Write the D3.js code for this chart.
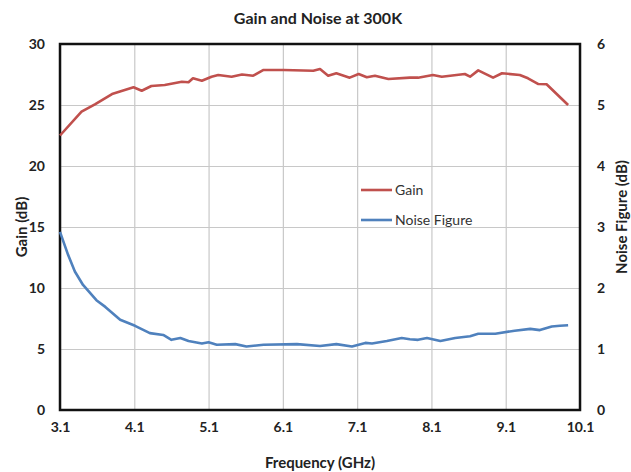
<!DOCTYPE html>
<html>
<head>
<meta charset="utf-8">
<script src="https://cdn.jsdelivr.net/npm/d3@7"></script>
<style>
  body { margin: 0; background: #fff; }
  text { font-family: Lato, "Open Sans", sans-serif; }
</style>
</head>
<body>
<script>
// frequency (GHz) and gain (dB)
const gainFreq = [3.10, 3.39, 3.57, 3.80, 4.09, 4.20, 4.33, 4.51, 4.74, 4.83, 4.89, 5.01, 5.14, 5.23, 5.41, 5.55, 5.70, 5.84, 6.11, 6.51, 6.60, 6.71, 6.82, 7.00, 7.12, 7.23, 7.34, 7.52, 7.81, 7.92, 8.12, 8.24, 8.55, 8.62, 8.73, 8.93, 9.05, 9.29, 9.40, 9.54, 9.65, 9.94]
const gainVals = [22.5, 24.45, 25.06, 25.9, 26.45, 26.17, 26.56, 26.64, 26.9, 26.86, 27.19, 26.99, 27.32, 27.46, 27.32, 27.5, 27.4, 27.87, 27.87, 27.81, 27.95, 27.4, 27.6, 27.24, 27.54, 27.27, 27.4, 27.13, 27.24, 27.24, 27.46, 27.32, 27.54, 27.32, 27.84, 27.24, 27.6, 27.46, 27.19, 26.72, 26.7, 25.0]

// frequency (GHz) and noise figure (dB)
const nfFreq = [3.10, 3.21, 3.30, 3.41, 3.59, 3.71, 3.91, 4.11, 4.31, 4.49, 4.60, 4.72, 4.83, 5.01, 5.10, 5.21, 5.46, 5.61, 5.84, 6.29, 6.60, 6.82, 7.03, 7.21, 7.30, 7.50, 7.70, 7.81, 7.92, 8.04, 8.22, 8.42, 8.62, 8.73, 8.96, 9.22, 9.43, 9.56, 9.72, 9.83, 9.94]
const nfVals = [2.92, 2.54, 2.27, 2.05, 1.80, 1.69, 1.48, 1.38, 1.26, 1.23, 1.15, 1.18, 1.13, 1.09, 1.11, 1.07, 1.08, 1.04, 1.07, 1.08, 1.05, 1.08, 1.04, 1.10, 1.09, 1.13, 1.18, 1.16, 1.15, 1.18, 1.13, 1.18, 1.21, 1.25, 1.25, 1.30, 1.33, 1.31, 1.37, 1.38, 1.39]

const xTicks = [3.1, 4.1, 5.1, 6.1, 7.1, 8.1, 9.1, 10.1]
const gainTicks = [0, 5, 10, 15, 20, 25, 30]
const nfTicks = [0, 1, 2, 3, 4, 5, 6]

const svgWidth = 631
const svgHeight = 472
const plotLeft = 60, plotRight = 580, plotTop = 44, plotBottom = 410

const red = "#c0504d"
const blue = "#4f81bd"

let svg = d3.select("body")
    .append("svg")
    .attr("width", svgWidth)
    .attr("height", svgHeight)

let xScale = d3.scaleLinear().domain([3.1, 10.1]).range([plotLeft, plotRight])
let yGain = d3.scaleLinear().domain([0, 30]).range([plotBottom, plotTop])
let yNf = d3.scaleLinear().domain([0, 6]).range([plotBottom, plotTop])

// grid
svg.append("g")
    .attr("transform", `translate(0, ${plotBottom})`)
    .call(d3.axisBottom(xScale).tickValues(xTicks).tickSize(-(plotBottom - plotTop)).tickFormat(""))
    .call(g => g.select(".domain").remove())
    .selectAll("line").attr("stroke", "#c8c8c8").attr("stroke-width", 1.2)

svg.append("g")
    .attr("transform", `translate(${plotLeft}, 0)`)
    .call(d3.axisLeft(yGain).tickValues(gainTicks).tickSize(-(plotRight - plotLeft)).tickFormat(""))
    .call(g => g.select(".domain").remove())
    .selectAll("line").attr("stroke", "#c8c8c8").attr("stroke-width", 1.2)

// tick labels
let xAxis = svg.append("g")
    .attr("transform", `translate(0, ${plotBottom + 9})`)
    .call(d3.axisBottom(xScale).tickValues(xTicks).tickSize(0).tickFormat(d3.format(".1f")))
xAxis.select(".domain").remove()
xAxis.selectAll("text").attr("font-size", 14).attr("font-weight", "bold").attr("fill", "#222")

let leftAxis = svg.append("g")
    .attr("transform", `translate(${plotLeft - 12}, 0)`)
    .call(d3.axisLeft(yGain).tickValues(gainTicks).tickSize(0))
leftAxis.select(".domain").remove()
leftAxis.selectAll("text").attr("font-size", 14).attr("font-weight", "bold").attr("fill", "#222")

let rightAxis = svg.append("g")
    .attr("transform", `translate(${plotRight + 14}, 0)`)
    .call(d3.axisRight(yNf).tickValues(nfTicks).tickSize(0).tickFormat(d3.format("d")))
rightAxis.select(".domain").remove()
rightAxis.selectAll("text").attr("font-size", 14).attr("font-weight", "bold").attr("fill", "#222")

// frame
svg.append("rect")
    .attr("x", plotLeft)
    .attr("y", plotTop)
    .attr("width", plotRight - plotLeft)
    .attr("height", plotBottom - plotTop)
    .attr("fill", "none")
    .attr("stroke", "#111")
    .attr("stroke-width", 2.5)

// lines
let gainLine = d3.line()
    .x((d, i) => xScale(gainFreq[i]))
    .y(d => yGain(d))

let nfLine = d3.line()
    .x((d, i) => xScale(nfFreq[i]))
    .y(d => yNf(d))

svg.append("path")
    .attr("d", gainLine(gainVals))
    .attr("fill", "none")
    .attr("stroke", red)
    .attr("stroke-width", 2.6)
    .attr("stroke-linejoin", "round")

svg.append("path")
    .attr("d", nfLine(nfVals))
    .attr("fill", "none")
    .attr("stroke", blue)
    .attr("stroke-width", 2.6)
    .attr("stroke-linejoin", "round")

// title and axis labels
svg.append("text")
    .attr("x", 318)
    .attr("y", 24)
    .attr("text-anchor", "middle")
    .attr("font-size", 16)
    .attr("font-weight", "bold")
    .attr("fill", "#222")
    .text("Gain and Noise at 300K")

svg.append("text")
    .attr("x", 320)
    .attr("y", 468)
    .attr("text-anchor", "middle")
    .attr("font-size", 15)
    .attr("font-weight", "bold")
    .attr("fill", "#222")
    .text("Frequency (GHz)")

svg.append("text")
    .attr("transform", `translate(27, ${(plotTop + plotBottom) / 2}) rotate(-90)`)
    .attr("text-anchor", "middle")
    .attr("font-size", 15)
    .attr("font-weight", "bold")
    .attr("fill", "#222")
    .text("Gain (dB)")

svg.append("text")
    .attr("transform", `translate(627, ${(plotTop + plotBottom) / 2 - 10}) rotate(-90)`)
    .attr("text-anchor", "middle")
    .attr("font-size", 15)
    .attr("font-weight", "bold")
    .attr("fill", "#222")
    .text("Noise Figure (dB)")

// legend
let legendItems = [{name: "Gain", color: red}, {name: "Noise Figure", color: blue}]
let legend = svg.append("g").attr("transform", "translate(361, 190)")
legendItems.forEach((item, i) => {
    legend.append("line")
        .attr("x1", 0).attr("x2", 31)
        .attr("y1", i * 30).attr("y2", i * 30)
        .attr("stroke", item.color)
        .attr("stroke-width", 2.6)
    legend.append("text")
        .attr("x", 34)
        .attr("y", i * 30 + 5)
        .attr("font-size", 14)
        .attr("fill", "#333")
        .text(item.name)
})
</script>
</body>
</html>
